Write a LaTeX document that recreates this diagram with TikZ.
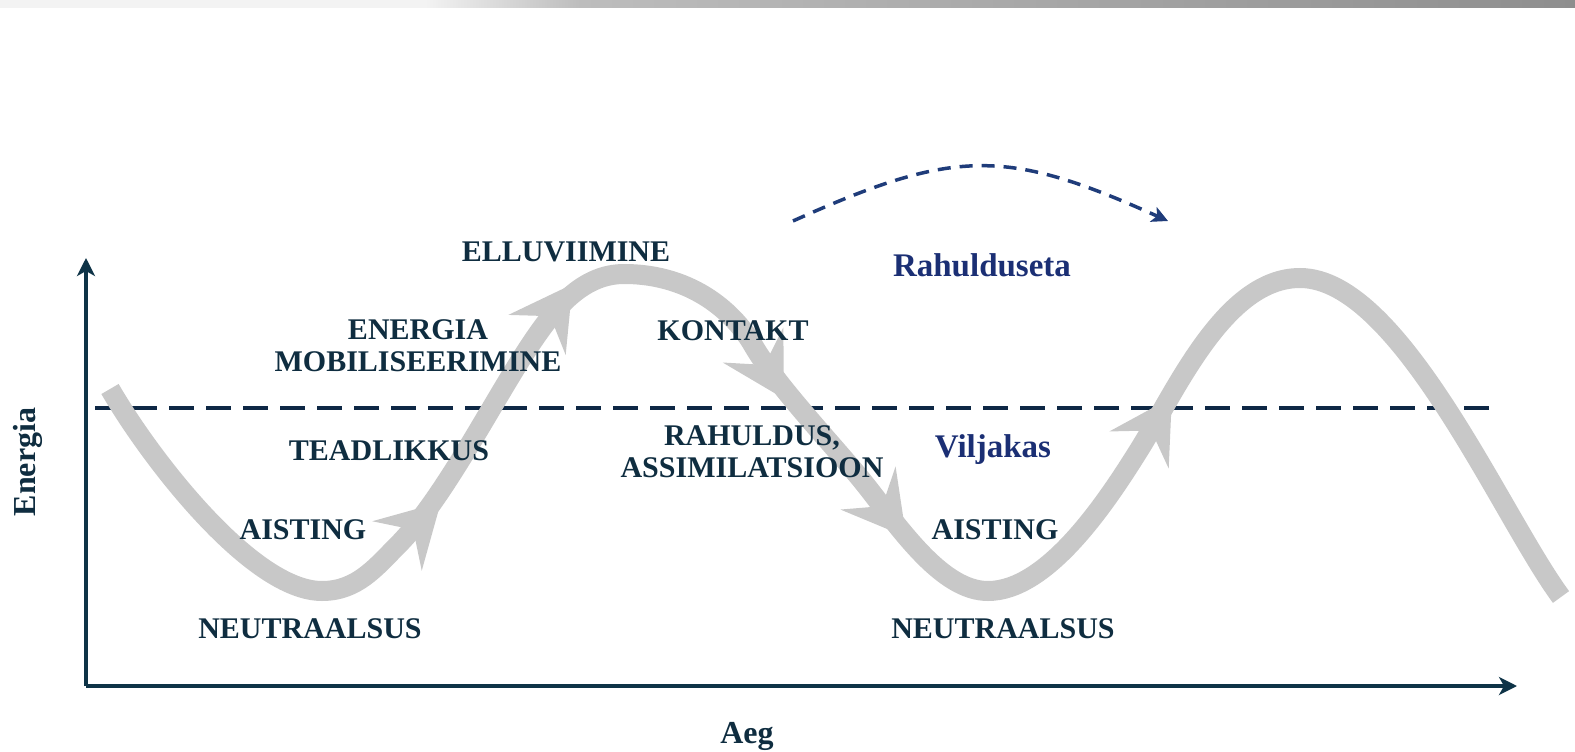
\documentclass[tikz,border=0pt]{standalone}
\usepackage{fontspec}
\setmainfont{Liberation Serif}
\usetikzlibrary{arrows.meta}
\definecolor{txt}{HTML}{0F2D40}
\definecolor{navy}{HTML}{1B2F74}
\definecolor{axisc}{HTML}{0E3347}
\definecolor{curvec}{HTML}{C8C8C8}
\definecolor{dashc}{HTML}{0E2845}
\definecolor{arcc}{HTML}{1F3C7A}
\definecolor{barA}{HTML}{F3F3F3}
\definecolor{barB}{HTML}{BDBDBD}
\definecolor{barC}{HTML}{8E8E8E}
\begin{document}
\begin{tikzpicture}[x=1pt,y=1pt,
  lbl/.style={font=\fontsize{30}{32}\selectfont\bfseries, text=txt, align=center, inner sep=0pt},
  bluelbl/.style={font=\fontsize{33}{36}\selectfont\bfseries, text=navy, inner sep=0pt, anchor=base},
  axlbl/.style={font=\fontsize{32}{36}\selectfont\bfseries, text=txt, inner sep=0pt, anchor=base},
  wave/.style={draw=curvec, line width=20pt},
  axisline/.style={draw=axisc, line width=4.5pt, -{Stealth[length=18pt,width=18pt,inset=5pt]}},
  chevron/.pic={\fill[curvec] (62,0) -- (0,35) -- (23,0) -- (0,-35) -- cycle;}]
\useasboundingbox (0,0) rectangle (1575,-752);
% top gradient bar
\fill[barA] (0,0) rectangle (425,-8);
\shade[left color=barA, right color=barB] (425,0) rectangle (580,-8);
\shade[left color=barB, right color=barC] (580,0) rectangle (1575,-8);

% threshold dashed line
\coordinate (DL) at (95,-408);
\coordinate (DR) at (1490,-408);
\draw[dashc, line width=3.5pt, dash pattern=on 25pt off 12pt] (DL) -- (DR);

% axes
\coordinate (O) at (86,-686);
\coordinate (YT) at (86,-258);
\coordinate (XT) at (1517,-686);
\draw[axisline] (O) -- (YT);
\draw[axisline] (O) -- (XT);

% wave knots
\coordinate (K0) at (110,-389);
\coordinate (K1) at (322,-591);
\coordinate (K2) at (397,-546);
\coordinate (K3) at (537,-335);
\coordinate (K4) at (624,-274);
\coordinate (K5) at (753,-345);
\coordinate (K7) at (868,-488);
\coordinate (K8) at (988,-591);
\coordinate (K9) at (1139,-450);
\coordinate (K10) at (1300,-278);
\coordinate (K11) at (1561,-597);
\draw[wave] (K0) .. controls +(-60:80) and +(180:70) .. (K1)
  .. controls +(0:35) and +(225:30) .. (K2)
  .. controls +(45:70) and +(235:70) .. (K3)
  .. controls +(55:35) and +(180:40) .. (K4)
  .. controls +(0:70) and +(120:35) .. (K5)
  .. controls +(-60:50) and +(128:50) .. (K7)
  .. controls +(-52:55) and +(180:45) .. (K8)
  .. controls +(0:60) and +(238:60) .. (K9)
  .. controls +(58:70) and +(180:75) .. (K10)
  .. controls +(0:100) and +(126.5:100) .. (K11);
\pic[rotate=45] at (K2) {chevron};
\pic[rotate=55] at (K3) {chevron};
\pic[rotate=-60] at (K5) {chevron};
\pic[rotate=-52] at (K7) {chevron};
\pic[rotate=58] at (K9) {chevron};

% dashed arc arrow
\coordinate (A0) at (793,-221);
\coordinate (A1) at (1168,-221);
\draw[arcc, line width=3.5pt, dash pattern=on 13pt off 9pt, -{Stealth[length=16pt,width=16pt,inset=4pt]}]
  (A0) .. controls (955,-148) and (1006,-148) .. (A1);

% labels
\node[lbl, anchor=base] (ell) at (566,-261) {ELLUVIIMINE};
\node[lbl] (ene) at (418,-346) {ENERGIA\\MOBILISEERIMINE};
\node[lbl, anchor=base] (kon) at (733,-340) {KONTAKT};
\node[lbl, anchor=base] (tea) at (389,-460) {TEADLIKKUS};
\node[lbl] (rah) at (752,-452) {RAHULDUS,\\ASSIMILATSIOON};
\node[lbl, anchor=base] (ais1) at (303,-539) {AISTING};
\node[lbl, anchor=base] (ais2) at (995,-539) {AISTING};
\node[lbl, anchor=base] (neu1) at (310,-638) {NEUTRAALSUS};
\node[lbl, anchor=base] (neu2) at (1003,-638) {NEUTRAALSUS};
\node[bluelbl] (rsa) at (982,-276) {Rahulduseta};
\node[bluelbl] (vil) at (993,-457) {Viljakas};
\node[axlbl] (aeg) at (747,-743) {Aeg};
\node[axlbl, rotate=90] (enl) at (35,-462) {Energia};
\end{tikzpicture}
\end{document}
